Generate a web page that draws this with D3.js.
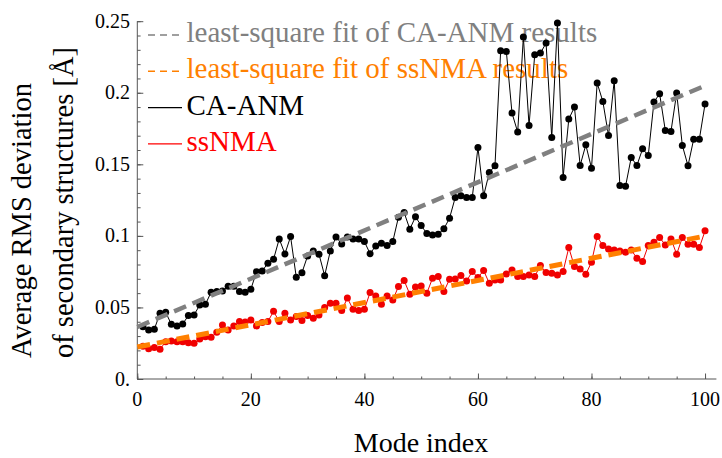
<!DOCTYPE html>
<html>
<head>
<meta charset="utf-8">
<script src="https://cdn.jsdelivr.net/npm/d3@7"></script>
<style>
  html, body { margin: 0; padding: 0; background: #fff; }
  svg { display: block; }
  svg text { font-family: "Liberation Serif", "Times New Roman", serif; }
</style>
</head>
<body>
<svg id="chart" width="722" height="458"></svg>
<script>
// Mode indices 1..100
const modes = d3.range(1, 101);

// Average RMS deviation per mode, CA-ANM
const caAnm = [
  0.0365, 0.0343, 0.0348, 0.0459, 0.0466, 0.0382, 0.0371, 0.0385, 0.0443, 0.0448,
  0.0517, 0.0522, 0.0606, 0.0611, 0.0615, 0.0648, 0.0648, 0.0611, 0.0606, 0.0627,
  0.0750, 0.0755, 0.0809, 0.0837, 0.0979, 0.0874, 0.0995, 0.0711, 0.0743, 0.0860,
  0.0895, 0.0872, 0.0722, 0.0895, 0.0993, 0.0944, 0.0993, 0.0979, 0.0979, 0.0960,
  0.0876, 0.0930, 0.0949, 0.0932, 0.0960, 0.1131, 0.1163, 0.1047, 0.1133, 0.1072,
  0.1017, 0.1007, 0.1012, 0.1049, 0.1124, 0.1268, 0.1280, 0.1268, 0.1268, 0.1618,
  0.1280, 0.1443, 0.1490, 0.2294, 0.2289, 0.1858, 0.1725, 0.2389, 0.1772, 0.2266,
  0.2277, 0.2347, 0.1688, 0.2487, 0.1408, 0.1816, 0.1900, 0.1492, 0.1636, 0.1473,
  0.2068, 0.1939, 0.1701, 0.2084, 0.1352, 0.1347, 0.1548, 0.1492, 0.1608, 0.1562,
  0.1935, 0.1993, 0.1737, 0.1730, 0.1998, 0.1632, 0.1490, 0.1676, 0.1676, 0.1921
];

// Average RMS deviation per mode, ssNMA
const ssNma = [
  0.0228, 0.0212, 0.0220, 0.0207, 0.0261, 0.0266, 0.0261, 0.0261, 0.0254, 0.0249,
  0.0280, 0.0296, 0.0291, 0.0326, 0.0378, 0.0343, 0.0371, 0.0401, 0.0399, 0.0413,
  0.0371, 0.0394, 0.0401, 0.0473, 0.0401, 0.0459, 0.0413, 0.0436, 0.0408, 0.0443,
  0.0424, 0.0448, 0.0499, 0.0529, 0.0529, 0.0478, 0.0566, 0.0487, 0.0478, 0.0487,
  0.0604, 0.0580, 0.0522, 0.0580, 0.0552, 0.0646, 0.0688, 0.0592, 0.0642, 0.0650,
  0.0600, 0.0704, 0.0716, 0.0611, 0.0697, 0.0699, 0.0723, 0.0685, 0.0751, 0.0709,
  0.0758, 0.0669, 0.0692, 0.0692, 0.0734, 0.0762, 0.0716, 0.0716, 0.0727, 0.0716,
  0.0793, 0.0744, 0.0739, 0.0727, 0.0751, 0.0918, 0.0786, 0.0769, 0.0732, 0.0816,
  0.0995, 0.0932, 0.0909, 0.0902, 0.0895, 0.0886, 0.0902, 0.0844, 0.0821, 0.0932,
  0.0956, 0.0988, 0.0937, 0.0979, 0.0872, 0.0988, 0.0942, 0.0942, 0.0918, 0.1035
];

// Axis ticks
const xMajorTicks = [0, 20, 40, 60, 80, 100];
const xTickLabels = ["0", "20", "40", "60", "80", "100"];
const yMajorTicks = [0, 0.05, 0.1, 0.15, 0.2, 0.25];
const yTickLabels = ["0.", "0.05", "0.1", "0.15", "0.2", "0.25"];

// Legend entries
const legendLabels = [
  "least-square fit of CA-ANM results",
  "least-square fit of ssNMA results",
  "CA-ANM",
  "ssNMA"
];
const legendColors = ["#808080", "#ff8000", "#000000", "#ff0000"];

const SERIF = "Liberation Serif, Times New Roman, serif";
const svg = d3.select("#chart");

const x = d3.scaleLinear().domain([0, 102]).range([137.3, 716.4]);
const y = d3.scaleLinear().domain([0, 0.25]).range([379, 21.2]);

// Ordinary least-squares line through (mode, value)
function lsq(xs, ys) {
  const mx = d3.mean(xs), my = d3.mean(ys);
  let sxy = 0, sxx = 0;
  xs.forEach((v, i) => { sxy += (v - mx) * (ys[i] - my); sxx += (v - mx) * (v - mx); });
  const b = sxy / sxx;
  return { a: my - b * mx, b };
}

// ---- legend (underneath the data) ----
const legend = svg.append("g");
legendLabels.forEach((label, i) => {
  const cy = 35 + i * 36.3;
  legend.append("line")
    .attr("x1", 148).attr("x2", 182).attr("y1", cy).attr("y2", cy)
    .attr("stroke", legendColors[i]).attr("stroke-width", i < 2 ? 1.5 : 1.2)
    .attr("stroke-dasharray", i < 2 ? "7,5" : null);
  legend.append("text")
    .attr("x", 186.5).attr("y", cy + 7)
    .attr("font-family", SERIF)
    .attr("font-size", 29).attr("fill", legendColors[i])
    .text(label);
});

// ---- axes ----
const axisColor = "#555";
const gx = svg.append("g").attr("transform", `translate(0,${y(0)})`)
  .call(d3.axisTop(x).tickValues(d3.range(0, 101, 5)).tickSize(2.5).tickFormat(""));
const gxMaj = svg.append("g").attr("transform", `translate(0,${y(0)})`)
  .call(d3.axisTop(x).tickValues(xMajorTicks).tickSize(5.5).tickFormat(""));
[gx, gxMaj].forEach(g => {
  g.selectAll("path,line").attr("stroke", axisColor).attr("stroke-width", 1);
});
gxMaj.select("path").remove();
gx.select("path").attr("d", `M${x(0)},0H${x(102)}`);

const gy = svg.append("g").attr("transform", `translate(${x(0)},0)`)
  .call(d3.axisRight(y).tickValues(d3.range(0, 0.2501, 0.01)).tickSize(3.3).tickFormat(""));
const gyMaj = svg.append("g").attr("transform", `translate(${x(0)},0)`)
  .call(d3.axisRight(y).tickValues(yMajorTicks).tickSize(6).tickFormat(""));
[gy, gyMaj].forEach(g => {
  g.selectAll("path,line").attr("stroke", axisColor).attr("stroke-width", 1);
});
gyMaj.select("path").remove();
gy.select("path").attr("d", `M0,${y(0)}V${y(0.25)}`);

// tick labels
svg.append("g").selectAll("text").data(xMajorTicks).join("text")
  .attr("x", d => x(d)).attr("y", 406)
  .attr("font-family", SERIF)
  .attr("text-anchor", "middle").attr("font-size", 20).attr("fill", "#000")
  .text((d, i) => xTickLabels[i]);
svg.append("g").selectAll("text").data(yMajorTicks).join("text")
  .attr("x", 130).attr("y", d => y(d)).attr("dy", "0.33em")
  .attr("font-family", SERIF)
  .attr("text-anchor", "end").attr("font-size", 20).attr("fill", "#000")
  .text((d, i) => yTickLabels[i]);

// axis titles
svg.append("text").attr("x", 421).attr("y", 452)
  .attr("font-family", SERIF)
  .attr("text-anchor", "middle").attr("font-size", 28).attr("fill", "#000")
  .text("Mode index");
const yTitle = svg.append("g").attr("transform", "translate(0,358) rotate(-90)");
yTitle.append("text").attr("x", 0).attr("y", 31)
  .attr("font-family", SERIF)
  .attr("font-size", 28.5).attr("fill", "#000").text("Average RMS deviation");
yTitle.append("text").attr("x", 0).attr("y", 73)
  .attr("font-family", SERIF)
  .attr("font-size", 28.5).attr("fill", "#000").text("of secondary structures [Å]");

// ---- data series ----
function drawSeries(values, color) {
  const pts = modes.map((m, i) => [m, values[i]]);
  svg.append("path").datum(pts)
    .attr("fill", "none").attr("stroke", color).attr("stroke-width", 1)
    .attr("d", d3.line().x(d => x(d[0])).y(d => y(d[1])));
  svg.append("g").selectAll("circle").data(pts).join("circle")
    .attr("cx", d => x(d[0])).attr("cy", d => y(d[1])).attr("r", 3.5)
    .attr("fill", color);
}
drawSeries(caAnm, "#000000");
drawSeries(ssNma, "#f00000");

// ---- fitted lines ----
function drawFit(values, color, width) {
  const f = lsq(modes, values);
  const ends = [0, 100];
  svg.append("path").datum(ends)
    .attr("fill", "none").attr("stroke", color).attr("stroke-width", width)
    .attr("stroke-dasharray", "13,7")
    .attr("d", d3.line().x(d => x(d)).y(d => y(f.a + f.b * d)));
}
drawFit(caAnm, "#808080", 4.5);
drawFit(ssNma, "#ff8000", 5);
</script>
</body>
</html>
